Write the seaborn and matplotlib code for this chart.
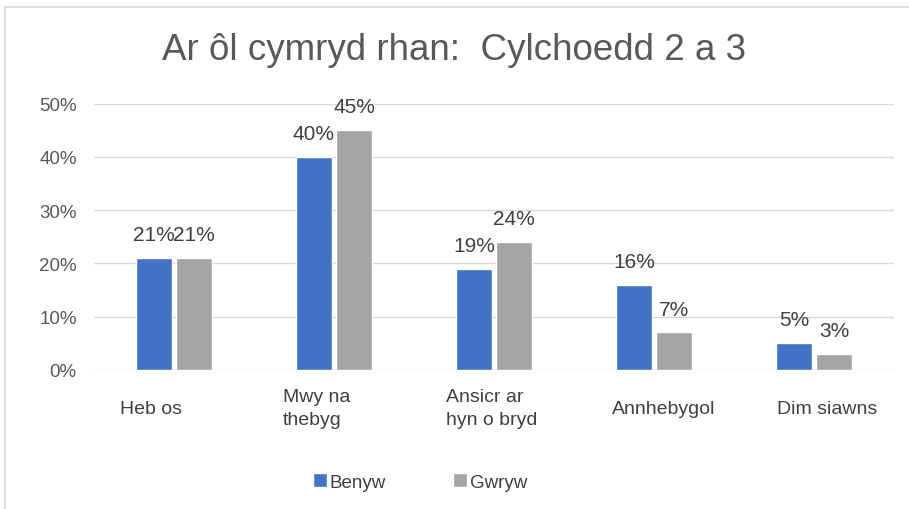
import pandas as pd
import seaborn as sns
import matplotlib.pyplot as plt
from matplotlib.patches import Rectangle

# Chart values
categories = ['Heb os', 'Mwy na\nthebyg', 'Ansicr ar\nhyn o bryd', 'Annhebygol', 'Dim siawns']
benyw = [21, 40, 19, 16, 5]
gwryw = [21, 45, 24, 7, 3]
series = ['Benyw', 'Gwryw']
colors = ['#4472C4', '#A5A5A5']

df = pd.DataFrame({
    'cat': categories * 2,
    'val': benyw + gwryw,
    'grp': [series[0]] * len(categories) + [series[1]] * len(categories),
})

sns.set_style('white')
plt.rcParams['font.family'] = ['Liberation Sans', 'DejaVu Sans']

fig = plt.figure(figsize=(9.09, 5.10), dpi=100)
ax = fig.add_axes([0.1034, 0.273, 0.880, 0.522])

sns.barplot(data=df, x='cat', y='val', hue='grp', palette=colors,
            width=0.5, gap=0.1, ax=ax, saturation=1, legend=True)

for cont in ax.containers:
    ax.bar_label(cont, labels=[f'{v:.0f}%' for v in cont.datavalues],
                 padding=10, fontsize=15, color='#404040')

ax.set_ylim(0, 50)
ax.set_xlim(-0.5, 4.5)
ax.set_yticks(range(0, 51, 10))
ax.set_yticklabels([f'{t}%' for t in range(0, 51, 10)], fontsize=13.5, color='#595959')
ax.yaxis.grid(True, color='#D9D9D9', linewidth=1)
ax.set_axisbelow(True)
for s in ax.spines.values():
    s.set_visible(False)
ax.tick_params(axis='y', length=0, pad=12.5)
ax.set_xlabel('')
ax.set_ylabel('')

# category labels, left aligned under the bars
ax.set_xticks(range(len(categories)))
ax.set_xticklabels([])
ax.tick_params(axis='x', length=0)
label_shift = [-0.34, -0.32, -0.30, -0.26, -0.23]
for i, c in enumerate(categories):
    ax.text(i + label_shift[i], -7.2, c, ha='left', va='center', fontsize=14,
            color='#404040', transform=ax.transData, linespacing=1.45)

fig.suptitle('Ar ôl cymryd rhan:  Cylchoedd 2 a 3', y=0.935, fontsize=26.5,
             color='#595959')

h, l = ax.get_legend_handles_labels()
ax.legend(h, l, loc='center', bbox_to_anchor=(0.462, 0.053),
          bbox_transform=fig.transFigure, ncol=2, frameon=False,
          fontsize=13.5, handlelength=0.75, handleheight=0.75,
          handletextpad=0.15, columnspacing=3.6, labelcolor='#404040')

fig.patches.append(Rectangle((0.006, -0.01), 1.0, 0.995, transform=fig.transFigure,
                             fill=False, edgecolor='#D9D9D9', linewidth=1.2))

fig.savefig('out.png', dpi=100)
